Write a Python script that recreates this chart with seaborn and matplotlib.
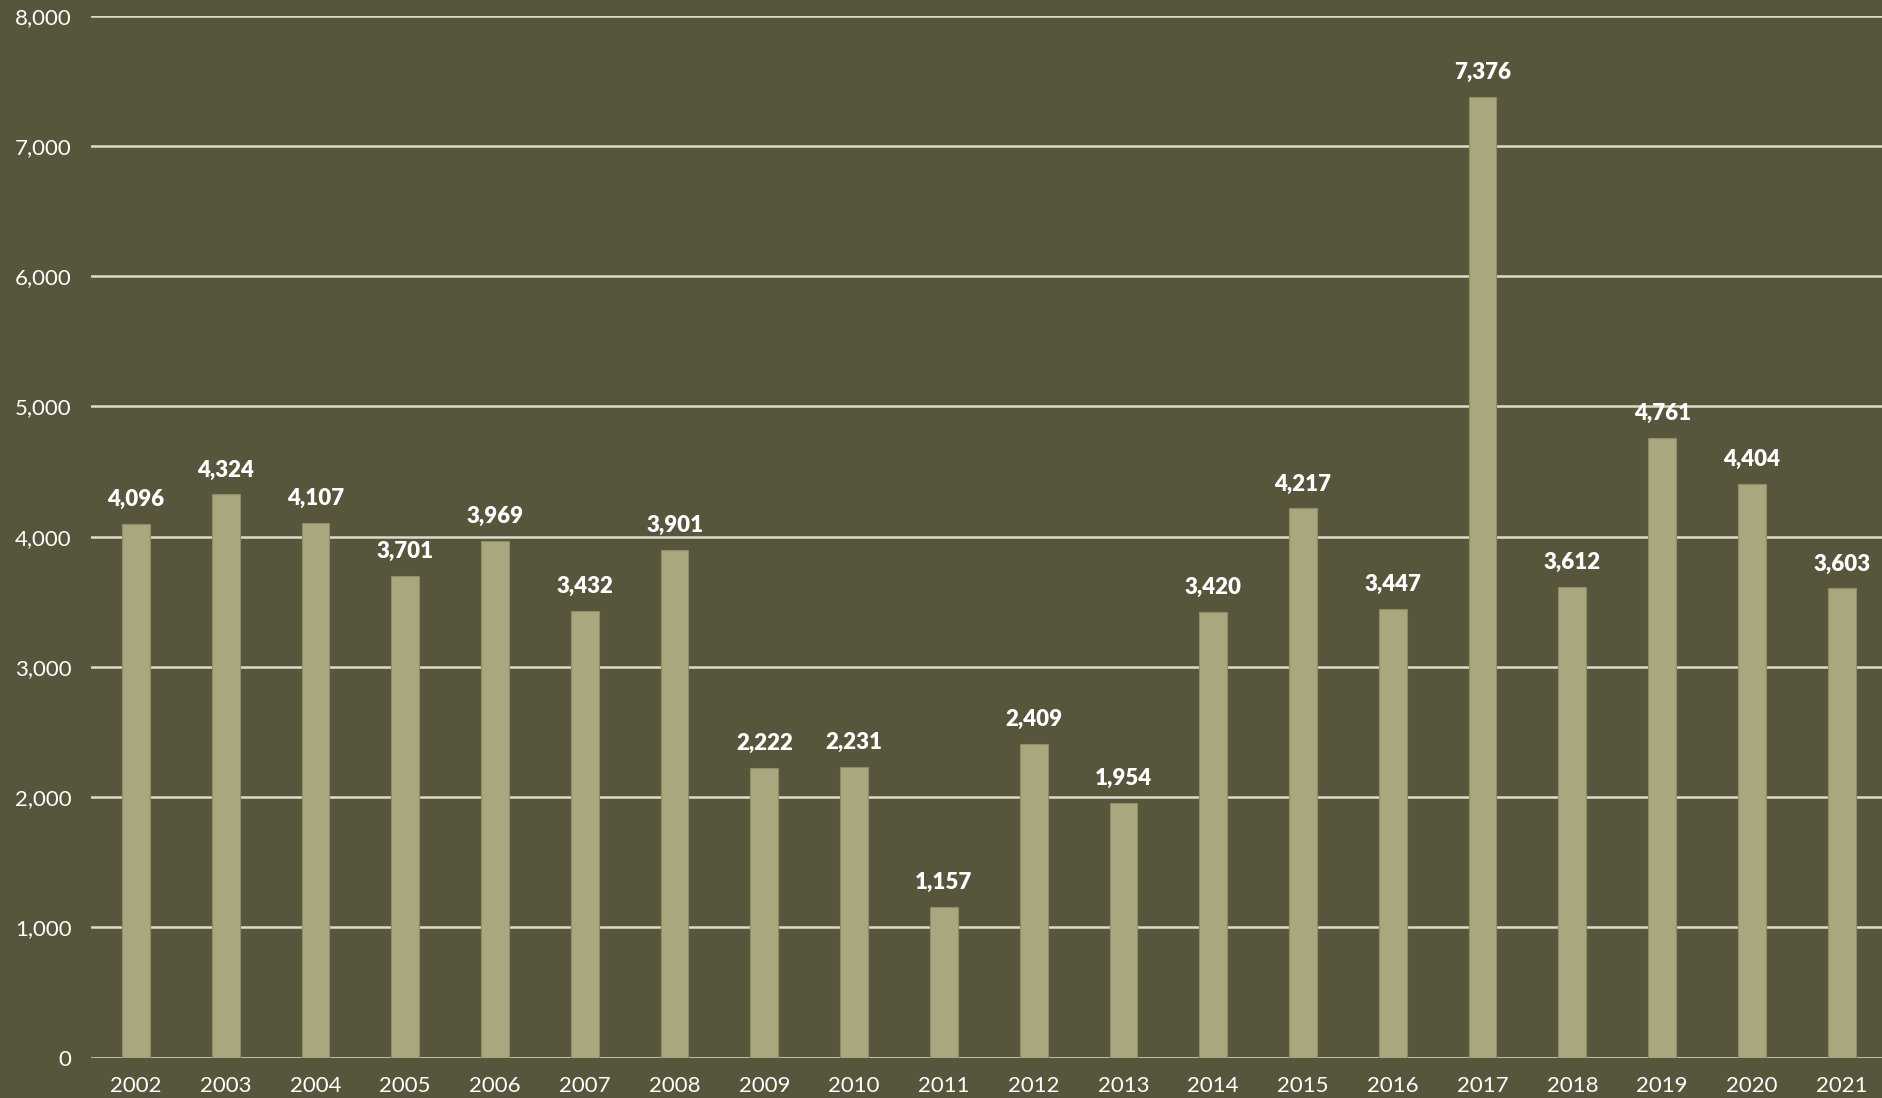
import matplotlib
matplotlib.use("Agg")
import matplotlib.pyplot as plt
import seaborn as sns
import pandas as pd

years = ["2002", "2003", "2004", "2005", "2006", "2007", "2008", "2009", "2010", "2011",
         "2012", "2013", "2014", "2015", "2016", "2017", "2018", "2019", "2020", "2021"]
values = [4096, 4324, 4107, 3701, 3969, 3432, 3901, 2222, 2231, 1157,
          2409, 1954, 3420, 4217, 3447, 7376, 3612, 4761, 4404, 3603]
y_ticks = [0, 1000, 2000, 3000, 4000, 5000, 6000, 7000, 8000]

BG = "#57563D"
BAR = "#A9A77D"
GRID = "#DEDBCB"
TXT = "#FFFFFF"

sns.set_theme(style="white")
plt.rcParams["font.family"] = ["Lato", "DejaVu Sans"]

df = pd.DataFrame({"year": years, "value": values})

fig = plt.figure(figsize=(18.83, 10.98), dpi=100, facecolor=BG)
ax = fig.add_axes([91 / 1883, 1 - 1057.7 / 1098, 1 - 91 / 1883, (1057.7 - 15.7) / 1098])
ax.set_facecolor(BG)

sns.barplot(data=df, x="year", y="value", color=BAR, width=0.31, saturation=1,
            edgecolor="#8E8C66", linewidth=0.8, ax=ax, zorder=3)

ax.set_ylim(0, 8000)
ax.set_xlim(-0.5, 19.46)
ax.set_yticks(y_ticks)
ax.set_yticklabels([f"{v:,}" for v in y_ticks])
ax.yaxis.grid(True, color=GRID, linewidth=1.8, zorder=1)
ax.set_axisbelow(True)
for s in ax.spines.values():
    s.set_visible(False)
ax.tick_params(axis="both", length=0, colors=TXT, labelsize=16)
ax.tick_params(axis="y", pad=14)
ax.tick_params(axis="x", pad=13)
ax.set_xlabel("")
ax.set_ylabel("")

for i, v in enumerate(values):
    ax.annotate(f"{v:,}", (i, v), xytext=(0, 10), textcoords="offset points",
                ha="center", va="bottom", color=TXT, fontsize=16, fontweight="heavy")

fig.savefig("out.png", dpi=100, facecolor=BG)
